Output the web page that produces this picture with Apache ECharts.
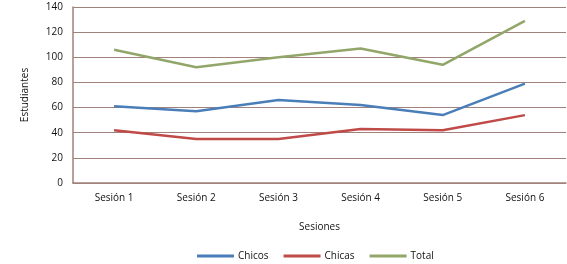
<!DOCTYPE html>
<html>
<head>
<meta charset="utf-8">
<script src="https://cdn.jsdelivr.net/npm/echarts@6/dist/echarts.min.js"></script>
<style>
  html, body { margin: 0; padding: 0; background: #fff; }
  #chart { width: 567px; height: 264px; }
</style>
</head>
<body>
<div id="chart"></div>
<script>
// data
const sessions = ["Sesión 1", "Sesión 2", "Sesión 3", "Sesión 4", "Sesión 5", "Sesión 6"];
const chicos = [61, 57, 66, 62, 54, 79];
const chicas = [42, 35, 35, 43, 42, 54];
const total = [106, 92, 100, 107, 94, 129];

const chart = echarts.init(document.getElementById("chart"));
const font = "Open Sans";
const gridColor = "#a0817c";
const txt = "#111";

const line = (name, data, color) => ({
  name: name,
  type: "line",
  data: data,
  symbol: "none",
  lineStyle: { color: color, width: 2.5 },
  itemStyle: { color: color },
});

const option = {
  animation: false,
  textStyle: { fontFamily: font },
  grid: { left: 73, right: 1, top: 7, bottom: 81 },
  legend: {
    bottom: -2,
    left: 192,
    itemWidth: 37,
    itemHeight: 3,
    itemGap: 15,
    icon: "rect",
    textStyle: { fontFamily: font, fontSize: 10, color: txt, padding: [0, 0, 0, -1] },
    data: ["Chicos", "Chicas", "Total"],
  },
  xAxis: {
    type: "category",
    data: sessions,
    name: "Sesiones",
    nameLocation: "middle",
    nameGap: 39,
    nameTextStyle: { fontFamily: font, fontSize: 10, color: txt },
    axisLine: { lineStyle: { color: gridColor, width: 1.5 } },
    axisTick: { show: false },
    axisLabel: { fontFamily: font, fontSize: 10, color: txt, margin: 10 },
  },
  yAxis: {
    type: "value",
    min: 0,
    max: 140,
    interval: 20,
    name: "Estudiantes",
    nameLocation: "middle",
    nameGap: 43,
    nameTextStyle: { fontFamily: font, fontSize: 10, color: txt },
    axisLine: { show: true, lineStyle: { color: gridColor, width: 1.5 } },
    axisTick: { show: false },
    axisLabel: { fontFamily: font, fontSize: 10, color: txt, margin: 10 },
    splitLine: { lineStyle: { color: gridColor, width: 1.2 } },
  },
  series: [
    line("Chicos", chicos, "#4a7eb8"),
    line("Chicas", chicas, "#bf4a47"),
    line("Total", total, "#92a66a"),
  ],
};

chart.setOption(option);
</script>
</body>
</html>
